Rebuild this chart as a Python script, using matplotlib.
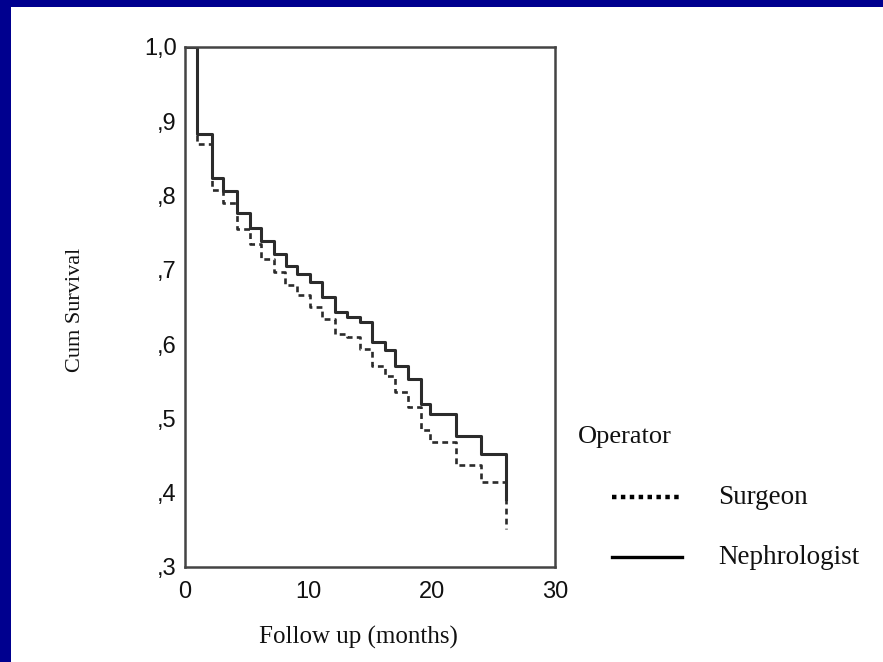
import matplotlib.pyplot as plt
from matplotlib.lines import Line2D
from matplotlib.patches import Rectangle

# Kaplan-Meier steps (month of event, survival after it)
months_surgeon = [0, 1.0, 2.2, 3.1, 4.2, 5.3, 6.2, 7.2, 8.1, 9.1, 10.1, 11.1, 12.2,
                  13.1, 14.2, 15.2, 16.2, 17.0, 18.1, 19.1, 19.9, 22.0, 24.0, 26.0]
surv_surgeon = [1.0, 0.870, 0.808, 0.790, 0.755, 0.735, 0.715, 0.697, 0.680, 0.666,
                0.650, 0.634, 0.614, 0.609, 0.594, 0.570, 0.557, 0.535, 0.515,
                0.484, 0.468, 0.437, 0.414, 0.351]

months_nephro = [0, 1.0, 2.2, 3.1, 4.2, 5.3, 6.2, 7.2, 8.2, 9.1, 10.1, 11.1, 12.2,
                 13.1, 14.2, 15.2, 16.2, 17.0, 18.1, 19.1, 19.9, 22.0, 24.0, 26.0]
surv_nephro = [1.0, 0.883, 0.823, 0.806, 0.776, 0.757, 0.739, 0.722, 0.705, 0.694,
               0.684, 0.664, 0.643, 0.637, 0.630, 0.603, 0.592, 0.571, 0.553,
               0.520, 0.506, 0.477, 0.452, 0.392]

y_ticks = [0.3, 0.4, 0.5, 0.6, 0.7, 0.8, 0.9, 1.0]
y_ticklabels = [",3", ",4", ",5", ",6", ",7", ",8", ",9", "1,0"]
x_ticks = [0, 10, 20, 30]

SANS = "Liberation Sans"
SERIF = "Liberation Serif"
BLUE = "#00008f"
INK = "#2b2b2b"

fig = plt.figure(figsize=(8.83, 6.62), dpi=100)
fig.patch.set_facecolor("white")

# slide frame: dark blue strips at top and left
fig.patches.append(Rectangle((0, 1 - 7 / 662), 1, 7 / 662, transform=fig.transFigure,
                             facecolor=BLUE, edgecolor="none", zorder=0))
fig.patches.append(Rectangle((0, 0), 11 / 883, 1, transform=fig.transFigure,
                             facecolor=BLUE, edgecolor="none", zorder=0))

ax = fig.add_axes([185 / 883, 1 - 567 / 662, 370 / 883, 520 / 662])

ax.step(months_surgeon, surv_surgeon, where="post", color=INK, lw=1.9,
        linestyle=(0, (2.2, 1.6)))
ax.step(months_nephro, surv_nephro, where="post", color=INK, lw=2.2)

ax.set_xlim(0, 30)
ax.set_ylim(0.3, 1.0)
ax.set_xticks(x_ticks)
ax.set_yticks(y_ticks)
ax.set_yticklabels(y_ticklabels)
ax.tick_params(length=0, labelsize=17, colors="#111111")
ax.tick_params(axis="x", pad=10)
ax.tick_params(axis="y", pad=6)
for lab in ax.get_xticklabels() + ax.get_yticklabels():
    lab.set_fontfamily(SANS)
for sp in ax.spines.values():
    sp.set_color("#444444")
    sp.set_linewidth(1.8)

fig.text(358 / 883, 1 - 637 / 662, "Follow up (months)", family=SERIF, fontsize=18,
         ha="center", va="center", color="#111111")
fig.text(75 / 883, 1 - 310 / 662, "Cum Survival", family=SERIF, fontsize=16,
         rotation=90, ha="center", va="center", color="#111111")

# legend drawn by hand, to the right of the plot
fig.text(578 / 883, 1 - 437 / 662, "Operator", family=SERIF, fontsize=19,
         ha="left", va="center", color="#111111")
fig.add_artist(Line2D([612 / 883, 682 / 883], [1 - 497 / 662] * 2, transform=fig.transFigure,
                      color="black", lw=3.2, linestyle=(0, (1, 1))))
fig.text(718 / 883, 1 - 497 / 662, "Surgeon", family=SERIF, fontsize=19.5,
         ha="left", va="center", color="#111111")
fig.add_artist(Line2D([612 / 883, 682 / 883], [1 - 557 / 662] * 2, transform=fig.transFigure,
                      color="black", lw=2.4))
fig.text(718 / 883, 1 - 557 / 662, "Nephrologist", family=SERIF, fontsize=19.5,
         ha="left", va="center", color="#111111")

fig.savefig("out.png", dpi=100, facecolor=fig.get_facecolor())
